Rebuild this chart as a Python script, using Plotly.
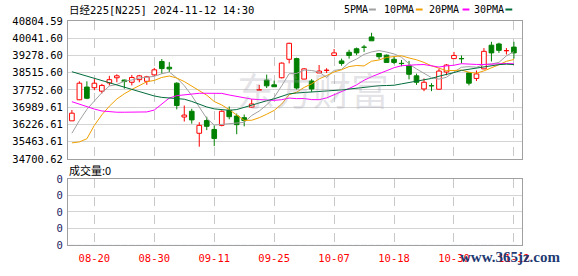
import plotly.graph_objects as go

# ---------------- data ----------------
dates = ["08-15", "08-16", "08-19", "08-20", "08-21", "08-22", "08-23", "08-26", "08-27", "08-28",
         "08-29", "08-30", "09-02", "09-03", "09-04", "09-05", "09-06", "09-09", "09-10", "09-11",
         "09-12", "09-13", "09-17", "09-18", "09-19", "09-20", "09-24", "09-25", "09-26", "09-27",
         "09-30", "10-01", "10-02", "10-03", "10-04", "10-07", "10-08", "10-09", "10-10", "10-11",
         "10-15", "10-16", "10-17", "10-18", "10-21", "10-22", "10-23", "10-24", "10-25", "10-28",
         "10-29", "10-30", "10-31", "11-01", "11-05", "11-06", "11-07", "11-08", "11-11", "11-12"]

opens = [36384, 37316, 37880, 37850, 37698, 38062, 38291, 38190, 38092, 38206,
         38134, 38418, 39012, 38758, 38050, 36553, 36808, 35833, 36396, 36002,
         36184, 36850, 36596, 36524, 36990, 37740, 38190, 37978, 38291, 39109,
         39139, 38232, 38147, 38503, 38614, 39279, 39037, 39419, 39576, 39652,
         40097, 39364, 39292, 39109, 38931, 38825, 38376, 37795, 37940, 37783,
         38546, 39139, 39143, 38503, 38262, 38685, 39733, 39788, 39487, 39648]
highs = [36863, 38134, 38134, 38232, 38020, 38376, 38444, 38207, 38418, 38418,
         38376, 38728, 39122, 38982, 38092, 37062, 36918, 36324, 36566, 36184,
         36850, 37020, 36706, 36663, 37342, 37978, 38431, 38164, 38970, 39843,
         39181, 38715, 38232, 38855, 38715, 39563, 39139, 39533, 39631, 39745,
         40284, 39393, 39321, 39224, 39080, 39037, 38474, 38262, 38050, 38685,
         38897, 39436, 39279, 38546, 38613, 39605, 39885, 39843, 39605, 39885]
lows = [36384, 37300, 37342, 37740, 37596, 37952, 38092, 37808, 37952, 38092,
        37978, 38376, 38474, 38546, 36892, 36354, 36257, 35239, 35973, 35265,
        36142, 36452, 35790, 36142, 36960, 37740, 37838, 37893, 38262, 38927,
        37766, 38232, 37668, 38503, 38503, 39249, 38825, 39139, 39292, 39436,
        39928, 39109, 38970, 38897, 38800, 38219, 37978, 37698, 37698, 37766,
        38402, 39139, 38927, 37952, 38147, 38673, 39012, 39393, 39321, 39139]
closes = [36723, 38050, 37384, 38050, 37952, 38206, 38376, 38122, 38304, 38376,
          38334, 38643, 38698, 38685, 37062, 36638, 36426, 36184, 36142, 35604,
          36808, 36566, 36214, 36396, 37130, 37766, 37935, 37893, 38940, 39817,
          37838, 38685, 37795, 38588, 38630, 39393, 38927, 39279, 39393, 39640,
          39928, 39224, 38970, 38970, 38918, 38444, 38092, 38092, 37931, 38588,
          38855, 39279, 39130, 38050, 38461, 39461, 39393, 39504, 39495, 39393]

ma5 = [35832, 36396, 36892, 37286, 37630, 37926, 37994, 38142, 38193, 38278,
       38304, 38354, 38469, 38545, 38282, 37943, 37502, 36998, 36489, 36197,
       36231, 36260, 36265, 36315, 36621, 36816, 37087, 37422, 37931, 38469,
       38486, 38634, 38613, 38545, 38304, 38617, 38664, 38961, 39122, 39325,
       39435, 39495, 39431, 39346, 39202, 38905, 38681, 38503, 38295, 38231,
       38312, 38549, 38757, 38783, 38757, 38876, 38901, 38973, 39262, 39448]
ma10 = [35408, 35451, 35591, 36184, 36650, 37032, 37350, 37583, 37774, 37954,
        38115, 38174, 38306, 38369, 38280, 38123, 37928, 37736, 37519, 37240,
        37087, 36879, 36633, 36404, 36409, 36523, 36676, 36845, 37125, 37545,
        37651, 37863, 38020, 38240, 38388, 38549, 38647, 38787, 38833, 38816,
        39024, 39079, 39194, 39232, 39266, 39168, 39088, 38969, 38821, 38715,
        38609, 38613, 38630, 38537, 38494, 38596, 38723, 38867, 39020, 39100]
ma20 = [37231, 37117, 37002, 36905, 36820, 36778, 36765, 36765, 36765, 36765,
        36778, 36862, 37117, 37392, 37498, 37541, 37583, 37604, 37604, 37596,
        37600, 37528, 37468, 37388, 37346, 37324, 37303, 37290, 37320, 37392,
        37367, 37371, 37324, 37320, 37401, 37536, 37663, 37816, 37977, 38181,
        38337, 38469, 38609, 38736, 38825, 38859, 38867, 38876, 38829, 38766,
        38816, 38846, 38914, 38884, 38880, 38880, 38905, 38918, 38922, 38910]
ma30 = [38558, 38460, 38367, 38274, 38176, 38079, 37964, 37858, 37752, 37655,
        37570, 37485, 37422, 37401, 37384, 37341, 37244, 37117, 36998, 36913,
        36875, 36850, 36883, 36989, 37087, 37180, 37273, 37358, 37477, 37579,
        37617, 37638, 37651, 37672, 37693, 37731, 37752, 37791, 37825, 37867,
        37922, 37939, 37947, 37960, 38020, 38079, 38138, 38202, 38261, 38359,
        38426, 38520, 38617, 38672, 38715, 38770, 38821, 38872, 38893, 38876]

volumes = [0, 0, 0, 0, 0, 0, 0, 0, 0, 0, 0, 0, 0, 0, 0, 0, 0, 0, 0, 0,
           0, 0, 0, 0, 0, 0, 0, 0, 0, 0, 0, 0, 0, 0, 0, 0, 0, 0, 0, 0,
           0, 0, 0, 0, 0, 0, 0, 0, 0, 0, 0, 0, 0, 0, 0, 0, 0, 0, 0, 0]

y_tick_labels = ["40804.59", "40041.60", "39278.60", "38515.60", "37752.60",
                 "36989.61", "36226.61", "35463.61", "34700.62"]
x_tick_dates = ["08-20", "08-30", "09-11", "09-25", "10-07", "10-18", "10-30", "11-12"]
vol_tick_labels = ["0", "0", "0", "0", "0"]
ma_names = ["5PMA", "10PMA", "20PMA", "30PMA"]

title_text = "日经225[N225] 2024-11-12 14:30"
volume_text = "成交量:0"

# ---------------- styles ----------------
W, H = 578, 276
L, R, T, B = 56, 56, 21, 21
PW, PH = W - L - R, H - T - B
UP = "#ff0000"
DOWN = "#008000"
MA_COLORS = ["#a0a0a0", "#f0a000", "#ff00ff", "#006c3a"]
GRID = "#d4d4d4"
FRAME = "#a0a0a0"
MONO = "DejaVu Sans Mono, Noto Sans CJK SC, monospace"
CJK = "Noto Sans CJK SC, DejaVu Sans"


def pxx(x):
    return (x - L) / PW


def pxy(y):
    return (H - B - y) / PH


fig = go.Figure()

# candle bodies
up = [c >= o for o, c in zip(opens, closes)]
bases = [min(o, c) for o, c in zip(opens, closes)]
heights = [max(abs(c - o), 8) for o, c in zip(opens, closes)]
fig.add_trace(go.Bar(
    x=dates, y=heights, base=bases, width=0.62,
    marker=dict(color=["#ffffff" if u else DOWN for u in up],
                line=dict(color=[UP if u else DOWN for u in up], width=1)),
    xaxis="x", yaxis="y", hoverinfo="skip", showlegend=False))

# wicks (outside the bodies)
for want_up, col in [(True, UP), (False, DOWN)]:
    xs, ys = [], []
    for d, o, h, l, c, u in zip(dates, opens, highs, lows, closes, up):
        if u != want_up:
            continue
        top, bot = max(o, c), min(o, c)
        if h > top:
            xs += [d, d, None]
            ys += [h, top, None]
        if l < bot:
            xs += [d, d, None]
            ys += [bot, l, None]
    fig.add_trace(go.Scatter(x=xs, y=ys, mode="lines", line=dict(color=col, width=1),
                             xaxis="x", yaxis="y", hoverinfo="skip", showlegend=False))

# moving averages
for vals, col in zip([ma5, ma10, ma20, ma30], MA_COLORS):
    fig.add_trace(go.Scatter(x=dates, y=vals, mode="lines", line=dict(color=col, width=1),
                             xaxis="x", yaxis="y", hoverinfo="skip", showlegend=False))

# volume (all zero)
fig.add_trace(go.Bar(x=dates, y=volumes, marker_color=DOWN, xaxis="x2", yaxis="y2",
                     hoverinfo="skip", showlegend=False))

y_tick_vals = [float(s) for s in y_tick_labels]
xrange = [-0.52, len(dates) - 1 + 1.08]

main_dom = [(H - B - 165) / PH, 1.0]
vol_dom = [0.0, (H - B - 186) / PH]

fig.update_layout(
    width=W, height=H,
    margin=dict(l=L, r=R, t=T, b=B),
    paper_bgcolor="white", plot_bgcolor="white",
    barmode="overlay",
    showlegend=False,
    xaxis=dict(type="category", categoryorder="array", categoryarray=dates,
               range=xrange, domain=[0, 1], anchor="y",
               tickvals=x_tick_dates, showticklabels=False, ticks="",
               showgrid=True, gridcolor="#c8c8c8", griddash="dash", gridwidth=1,
               showline=True, mirror=True, linecolor=FRAME, linewidth=1, zeroline=False),
    yaxis=dict(range=[min(y_tick_vals) - 0.01, max(y_tick_vals) + 0.01], domain=main_dom,
               anchor="x", tickvals=y_tick_vals, ticktext=y_tick_labels,
               tickfont=dict(family=MONO, size=10.5, color="#000000"),
               ticks="outside", ticklen=2, tickcolor="rgba(0,0,0,0)",
               showgrid=True, gridcolor=GRID, gridwidth=1,
               showline=True, mirror=True, linecolor=FRAME, linewidth=1, zeroline=False),
    xaxis2=dict(type="category", categoryorder="array", categoryarray=dates,
                range=xrange, domain=[0, 1], anchor="y2",
                tickvals=x_tick_dates, ticktext=x_tick_dates,
                tickfont=dict(family=MONO, size=10.5, color="#ff0000"),
                ticks="", ticklabelstandoff=3,
                showgrid=True, gridcolor="#c8c8c8", griddash="dash", gridwidth=1,
                showline=True, mirror=True, linecolor=FRAME, linewidth=1, zeroline=False),
    yaxis2=dict(range=[0, 4], domain=vol_dom, anchor="x2",
                tickvals=[0, 1, 2, 3, 4], ticktext=vol_tick_labels,
                tickfont=dict(family=MONO, size=10.5, color="#1a1a60"),
                ticks="outside", ticklen=2, tickcolor="rgba(0,0,0,0)",
                showgrid=True, gridcolor=GRID, gridwidth=1,
                showline=True, mirror=True, linecolor=FRAME, linewidth=1, zeroline=False),
)

annotations = [
    dict(text=title_text, x=pxx(55), y=pxy(9), xref="paper", yref="paper",
         xanchor="left", yanchor="middle", showarrow=False,
         font=dict(family=MONO, size=10.5, color="#000000")),
    dict(text=volume_text, x=pxx(55), y=pxy(177), xref="paper", yref="paper",
         xanchor="left", yanchor="middle", showarrow=False,
         font=dict(family=CJK, size=11, color="#000000")),
    dict(text="东方财富", x=pxx(307), y=pxy(92), xref="paper", yref="paper",
         xanchor="center", yanchor="middle", showarrow=False,
         font=dict(family=CJK, size=38, color="rgba(160,160,175,0.28)")),
    dict(text="<b>www.365jz.com</b>", x=pxx(510), y=pxy(268), xref="paper", yref="paper",
         xanchor="center", yanchor="middle", showarrow=False,
         font=dict(family="Liberation Serif, DejaVu Serif", size=15, color="#1f3b73")),
]
legend_x = [337, 378, 424, 471]
swatch_x = [365, 413, 461, 505]
shapes = []
for name, lx, sx, col in zip(ma_names, legend_x, swatch_x, MA_COLORS):
    annotations.append(dict(text=name, x=pxx(lx), y=pxy(9), xref="paper", yref="paper",
                            xanchor="left", yanchor="middle", showarrow=False,
                            font=dict(family=MONO, size=10, color="#000000")))
    shapes.append(dict(type="line", xref="paper", yref="paper",
                       x0=pxx(sx), x1=pxx(sx + 7), y0=pxy(9), y1=pxy(9),
                       line=dict(color=col, width=2)))
fig.update_layout(annotations=annotations, shapes=shapes)

fig.write_html("out.html")
